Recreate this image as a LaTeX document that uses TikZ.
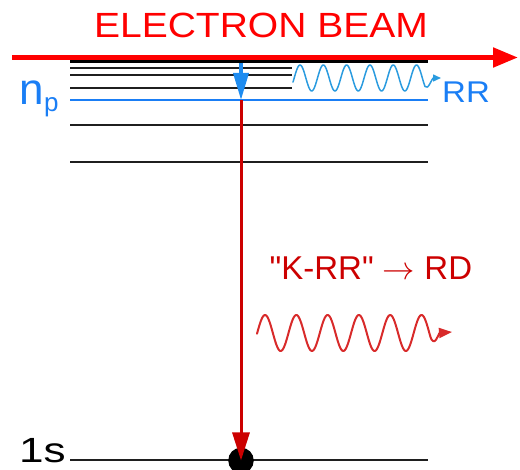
\documentclass[tikz,border=0pt]{standalone}
\usepackage{fontspec}
\setmainfont{Liberation Sans}
\usetikzlibrary{arrows.meta}
\definecolor{beamred}{HTML}{FF0000}
\definecolor{darkred}{HTML}{CC0000}
\definecolor{wavered}{HTML}{D82A2A}
\definecolor{npblue}{HTML}{1A7EF5}
\definecolor{waveblue}{HTML}{2A9BDF}
\definecolor{dropblue}{HTML}{1E8CF0}
\newcommand\dquote{\XeTeXglyph\XeTeXcharglyph"22\relax}

\begin{document}
\begin{tikzpicture}[x=1pt,y=-1pt,line cap=butt,
  level/.style={black!88,line width=1.8pt},
  wave/.style={line join=round,line cap=round},
  lbl/.style={inner sep=0pt}]
  \useasboundingbox (0,0) rectangle (520,470);
  \def\xleft{70}
  \def\xright{428}
  \def\xshort{292}
  \def\xdrop{241}
  \coordinate (beamstart) at (12,57.5);
  \coordinate (beamend) at (518,57.5);
  \coordinate (top) at (\xdrop,63);
  \coordinate (np) at (\xdrop,100);
  \coordinate (gs) at (\xdrop,460.5);

  \draw[black,line width=4pt] (\xleft,61.3) -- (\xright,61.3);
  \foreach \y in {68,75.3,87.7}
    \draw[level] (\xleft,\y) -- (\xshort,\y);
  \foreach \y in {125,162,460.3}
    \draw[level] (\xleft,\y) -- (\xright,\y);
  \draw[npblue,line width=1.8pt] (\xleft,100) -- (\xright,100);

  \draw[beamred,line width=5pt,-{Triangle[length=25pt,width=19pt]}]
    (beamstart) -- (beamend);
  \node[lbl,text=beamred,anchor=base] (beam) at (261,38)
    {\fontsize{35}{35}\selectfont\scalebox{1.115}[1]{ELECTRON BEAM}};

  \node[lbl,text=npblue,anchor=base west] (nplabel) at (19.5,105)
    {\fontsize{44}{44}\selectfont n\raisebox{-6.5pt}{\fontsize{26}{26}\selectfont p}};
  \node[lbl,text=npblue,anchor=base west] (rr) at (442,103)
    {\fontsize{30}{30}\selectfont\scalebox{1.1}[1]{RR}};
  \node[lbl,anchor=base west] (ground) at (19,462.5)
    {\fontsize{35}{35}\selectfont\scalebox{1.26}[1]{1s}};
  \node[lbl,text=darkred,anchor=base west] (krr) at (269.5,280)
    {\fontsize{33}{33}\selectfont \dquote K-RR\dquote\ \scalebox{1.3}{$\rightarrow$} RD};

  \draw[waveblue,wave,line width=1.5pt,-{Triangle[length=8pt,width=7pt]}]
    plot[domain=293:425,samples=160] (\x,{78-13*sin(15.451*(\x-294.2))})
    .. controls (428,91) and (432,78) .. (441,78);
  \draw[wavered,wave,line width=2pt,-{Triangle[length=13pt,width=10pt]}]
    plot[domain=257:430,samples=200] (\x,{333-18*sin(11.502*(\x-257.2))})
    .. controls (434,350) and (439,333) .. (452,332);

  \fill[black] (gs) circle (12.8);
  \draw[dropblue,line width=3.5pt,-{Triangle[length=27pt,width=15pt]}] (top) -- (np);
  \draw[darkred,line width=3pt,-{Triangle[length=28pt,width=17pt]}] (np) -- (gs);
\end{tikzpicture}
\end{document}
